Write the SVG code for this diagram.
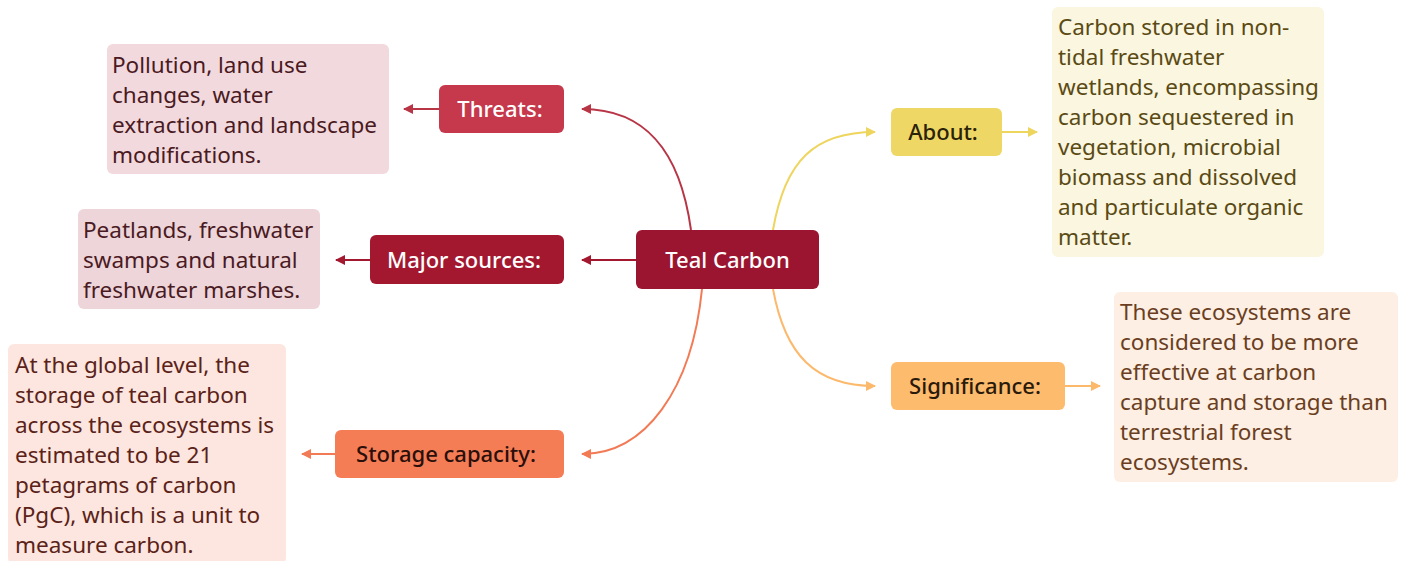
<svg xmlns="http://www.w3.org/2000/svg" width="1403" height="561" viewBox="0 0 1403 561">
<style>
text{font-family:"Noto Sans","Open Sans",sans-serif;font-size:22.5px}
.c{fill:none;stroke-width:2}
.lbl{text-anchor:middle;font-size:22px;font-weight:500}
</style>
<defs>
<marker id="aT" viewBox="0 0 10 10" refX="9" refY="5" markerWidth="5" markerHeight="5" orient="auto"><path d="M0,0 L10,5 L0,10 Z" fill="#b83546"/></marker>
<marker id="aM" viewBox="0 0 10 10" refX="9" refY="5" markerWidth="5" markerHeight="5" orient="auto"><path d="M0,0 L10,5 L0,10 Z" fill="#a3182f"/></marker>
<marker id="aS" viewBox="0 0 10 10" refX="9" refY="5" markerWidth="5" markerHeight="5" orient="auto"><path d="M0,0 L10,5 L0,10 Z" fill="#f27a55"/></marker>
<marker id="aA" viewBox="0 0 10 10" refX="9" refY="5" markerWidth="5" markerHeight="5" orient="auto"><path d="M0,0 L10,5 L0,10 Z" fill="#eed55e"/></marker>
<marker id="aG" viewBox="0 0 10 10" refX="9" refY="5" markerWidth="5" markerHeight="5" orient="auto"><path d="M0,0 L10,5 L0,10 Z" fill="#fcb96c"/></marker>
</defs>
<rect width="1403" height="561" fill="#ffffff"/>
<g id="connectors">
<path class="c" stroke="#b83546" d="M691,230 C680,150 645,109 582,109" marker-end="url(#aT)"/>
<path class="c" stroke="#a3182f" d="M636,260 L582,260" marker-end="url(#aM)"/>
<path class="c" stroke="#f27a55" d="M702,289 C692,390 645,454 582,454" marker-end="url(#aS)"/>
<path class="c" stroke="#eed55e" d="M773,230 C785,160 815,132 875,132" marker-end="url(#aA)"/>
<path class="c" stroke="#fcb96c" d="M773,289 C785,355 815,386 875,386" marker-end="url(#aG)"/>
<path class="c" stroke="#b83546" d="M439,109 L404,109" marker-end="url(#aT)"/>
<path class="c" stroke="#a3182f" d="M370,260 L336,260" marker-end="url(#aM)"/>
<path class="c" stroke="#f27a55" d="M335,454 L302,454" marker-end="url(#aS)"/>
<path class="c" stroke="#eed55e" d="M1002,132 L1037,132" marker-end="url(#aA)"/>
<path class="c" stroke="#fcb96c" d="M1065,386 L1100,386" marker-end="url(#aG)"/>
</g>
<g id="center">
<rect x="636" y="230" width="183" height="59" rx="6" fill="#9b1530"/>
<text class="lbl" x="727.5" y="268" fill="#ffffff" font-size="23" font-weight="600">Teal Carbon</text>
</g>
<g id="threats">
<rect x="439" y="85" width="125" height="48" rx="6" fill="#c6384b"/>
<text class="lbl" x="500" y="117" fill="#ffffff">Threats:</text>
</g>
<g id="threats-detail">
<rect x="107" y="44" width="282" height="130" rx="6" fill="#f2d9dd"/>
<text fill="#4a1a22"><tspan x="112" y="73">Pollution, land use</tspan><tspan x="112" y="103">changes, water</tspan><tspan x="112" y="133">extraction and landscape</tspan><tspan x="112" y="163">modifications.</tspan></text>
</g>
<g id="major">
<rect x="370" y="235" width="194" height="49" rx="6" fill="#a3182f"/>
<text class="lbl" x="464" y="267.5" fill="#ffffff">Major sources:</text>
</g>
<g id="major-detail">
<rect x="78" y="209" width="242" height="100" rx="6" fill="#edd5da"/>
<text fill="#4a1a22"><tspan x="83" y="238">Peatlands, freshwater</tspan><tspan x="83" y="268">swamps and natural</tspan><tspan x="83" y="298">freshwater marshes.</tspan></text>
</g>
<g id="storage">
<rect x="335" y="430" width="229" height="48" rx="6" fill="#f47d56"/>
<text class="lbl" x="446" y="462" fill="#2a0f0a">Storage capacity:</text>
</g>
<g id="storage-detail">
<rect x="8" y="344" width="278" height="220" rx="6" fill="#fde6df"/>
<text fill="#5a2218"><tspan x="15" y="373">At the global level, the</tspan><tspan x="15" y="403">storage of teal carbon</tspan><tspan x="15" y="433">across the ecosystems is</tspan><tspan x="15" y="463">estimated to be 21</tspan><tspan x="15" y="493">petagrams of carbon</tspan><tspan x="15" y="523">(PgC), which is a unit to</tspan><tspan x="15" y="553">measure carbon.</tspan></text>
</g>
<g id="about">
<rect x="891" y="108" width="111" height="48" rx="6" fill="#efd765"/>
<text class="lbl" x="943" y="140" fill="#2a230a">About:</text>
</g>
<g id="about-detail">
<rect x="1052" y="7" width="272" height="250" rx="6" fill="#fbf6e0"/>
<text fill="#5a4a14"><tspan x="1058" y="35">Carbon stored in non-</tspan><tspan x="1058" y="65">tidal freshwater</tspan><tspan x="1058" y="95">wetlands, encompassing</tspan><tspan x="1058" y="125">carbon sequestered in</tspan><tspan x="1058" y="155">vegetation, microbial</tspan><tspan x="1058" y="185">biomass and dissolved</tspan><tspan x="1058" y="215">and particulate organic</tspan><tspan x="1058" y="245">matter.</tspan></text>
</g>
<g id="significance">
<rect x="891" y="362" width="174" height="48" rx="6" fill="#fdbb6e"/>
<text class="lbl" x="975" y="394" fill="#2a1a0a">Significance:</text>
</g>
<g id="significance-detail">
<rect x="1114" y="292" width="284" height="190" rx="6" fill="#fdefe3"/>
<text fill="#6a3e1e"><tspan x="1120" y="320">These ecosystems are</tspan><tspan x="1120" y="350">considered to be more</tspan><tspan x="1120" y="380">effective at carbon</tspan><tspan x="1120" y="410">capture and storage than</tspan><tspan x="1120" y="440">terrestrial forest</tspan><tspan x="1120" y="470">ecosystems.</tspan></text>
</g>
</svg>
